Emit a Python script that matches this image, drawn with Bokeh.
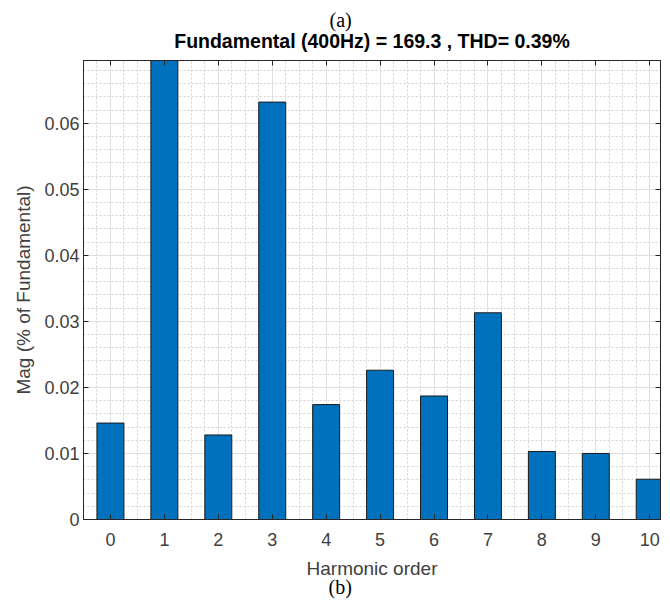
from bokeh.plotting import figure
from bokeh.models import Range1d, FixedTicker, LinearAxis, Title, CustomLabelingPolicy
from bokeh.embed import file_html
from bokeh.resources import INLINE

# ---- data ----
harmonic_order = [0, 1, 2, 3, 4, 5, 6, 7, 8, 9, 10]
magnitude = [0.0146, 100.0, 0.0128, 0.0632, 0.0174, 0.0226, 0.0187, 0.0313, 0.0103, 0.0100, 0.0061]
x_tick_values = [0, 1, 2, 3, 4, 5, 6, 7, 8, 9, 10]
y_tick_values = [0, 0.01, 0.02, 0.03, 0.04, 0.05, 0.06]
y_tick_labels = ["0", "0.01", "0.02", "0.03", "0.04", "0.05", "0.06"]
title_text = "Fundamental (400Hz) = 169.3 , THD= 0.39%"
x_label = "Harmonic order"
y_label = "Mag (% of Fundamental)"
top_caption = "(a)"
bottom_caption = "(b)"

AX = "#262626"
LBL = "#404040"
SANS = "Liberation Sans"
SERIF = "Liberation Serif"

x_minor = [-0.5 + 0.25 * i for i in range(44)]
y_minor = [0.002 * i for i in range(35)]

p = figure(width=662, height=600, output_backend="svg", toolbar_location=None,
           x_range=Range1d(-0.5, 10.2), y_range=Range1d(0, 0.0695),
           min_border_left=83, min_border_right=2, min_border_top=60, min_border_bottom=81)

p.vbar(x=harmonic_order, top=magnitude, width=0.5, bottom=0,
       fill_color="#0072BD", line_color="#1a1a1a", line_width=1)

xt = FixedTicker(ticks=x_tick_values, minor_ticks=x_minor)
yt = FixedTicker(ticks=y_tick_values, minor_ticks=y_minor)

hide_labels = CustomLabelingPolicy(code="""
try { for (const i of Array.from(indices)) { indices.unset(i) } } catch (e) {}
return indices
""")

def style_axis(ax, labels=True):
    ax.axis_line_color = AX
    ax.axis_line_width = 1
    ax.major_tick_line_color = AX
    ax.major_tick_in = 5
    ax.major_tick_out = 0
    ax.minor_tick_in = 0
    ax.minor_tick_out = 0
    ax.major_label_text_font = SANS
    ax.major_label_text_color = LBL
    ax.major_label_text_font_size = "18px"
    ax.axis_label_text_font = SANS
    ax.axis_label_text_color = LBL
    ax.axis_label_text_font_size = "19px"
    ax.axis_label_text_font_style = "normal"
    if not labels:
        ax.major_label_policy = hide_labels
        ax.major_label_text_font_size = "0px"
        ax.major_label_standoff = 0

xa = p.xaxis[0]
xa.ticker = xt
style_axis(xa)
xa.axis_label = x_label
xa.major_label_standoff = 13
xa.axis_label_standoff = 9

ya = p.yaxis[0]
ya.ticker = yt
style_axis(ya)
ya.axis_label = y_label
ya.major_label_standoff = 4
ya.axis_label_standoff = 7
ya.major_label_overrides = {v: s for v, s in zip(y_tick_values, y_tick_labels)}

ra = LinearAxis(ticker=yt)
style_axis(ra, labels=False)
p.add_layout(ra, "right")
ta = LinearAxis(ticker=xt)
style_axis(ta, labels=False)
p.add_layout(ta, "above")

p.xgrid.ticker = xt
p.ygrid.ticker = yt
for g in (p.xgrid[0], p.ygrid[0]):
    g.grid_line_color = "#e0e0e0"
    g.grid_line_width = 1
    g.minor_grid_line_color = "#d2d2d2"
    g.minor_grid_line_dash = "2 2"
    g.minor_grid_line_width = 1

p.outline_line_color = AX
p.background_fill_color = "white"
p.border_fill_color = "white"

p.add_layout(Title(text=title_text, align="center", text_font=SANS, text_font_size="19.5px",
                   text_font_style="bold", text_color="#000000", standoff=18), "above")
p.add_layout(Title(text=top_caption, align="left", text_font=SERIF, text_font_size="20px",
                   text_font_style="normal", text_color="#000000", standoff=-24, offset=246), "above")
p.add_layout(Title(text=bottom_caption, align="left", text_font=SERIF, text_font_size="20px",
                   text_font_style="normal", text_color="#000000", standoff=-15, offset=245), "below")

open("out.html", "w").write(file_html(p, INLINE))
